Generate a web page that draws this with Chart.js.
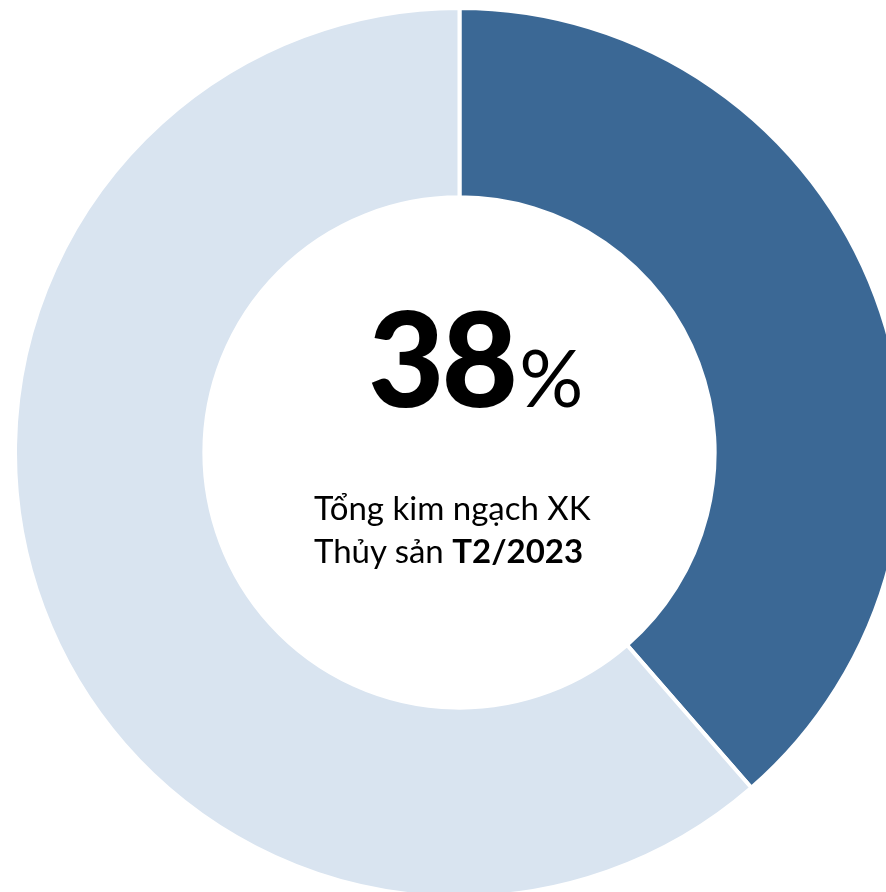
<!DOCTYPE html>
<html>
<head>
<meta charset="utf-8">
<script src="https://cdn.jsdelivr.net/npm/chart.js@4.4.1/dist/chart.umd.min.js"></script>
<style>
    html, body { margin: 0; padding: 0; background: #ffffff; }
    body { width: 886px; height: 892px; position: relative; overflow: hidden; font-family: Lato, "Open Sans", sans-serif; }
    #ring { position: absolute; left: 13px; top: 6px; }
    .big { position: absolute; left: 368px; top: 290px; line-height: 132px; color: #000; white-space: nowrap; }
    .big .num { font-size: 132px; font-weight: 900; letter-spacing: -3px; }
    .big .pct { font-size: 80px; font-weight: 400; margin-left: 4px; }
    .caption { position: absolute; left: 314px; top: 486px; font-size: 33px; line-height: 43px; color: #000; white-space: nowrap; }
    .caption b { font-weight: 700; }
</style>
</head>
<body>
<canvas id="ring" width="893" height="893"></canvas>
<div class="big"><span class="num">38</span><span class="pct">%</span></div>
<div class="caption">Tổng kim ngạch XK<br>Thủy sản <b>T2/2023</b></div>

<script>
// share of seafood exports, Feb 2023
const segmentLabels = ['Thủy sản', 'Còn lại'];
const segmentValues = [38.6, 61.4];
const segmentColors = ['#3b6895', '#d9e4f0'];

const ctx = document.getElementById('ring').getContext('2d');

new Chart(ctx, {
    type: 'doughnut',
    data: {
        labels: segmentLabels,
        datasets: [{
            data: segmentValues,
            backgroundColor: segmentColors,
            borderColor: '#ffffff',
            borderWidth: 4,
            hoverOffset: 0
        }]
    },
    options: {
        responsive: false,
        animation: false,
        cutout: '57.4%',
        rotation: 0,
        layout: { padding: 0 },
        plugins: {
            legend: { display: false },
            tooltip: { enabled: false }
        }
    }
});
</script>
</body>
</html>
